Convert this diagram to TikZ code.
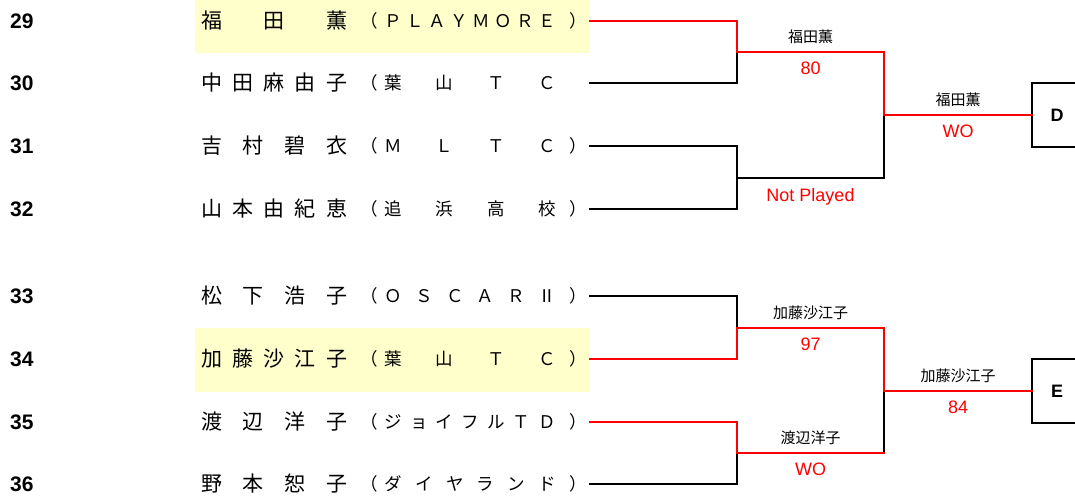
\documentclass[tikz,border=0pt]{standalone}
\usepackage{fontspec}
\setmainfont{Liberation Sans}
\newfontfamily\jpfont{Noto Sans CJK JP}
\newcommand{\clubbox}[1]{（\hspace{7pt}\makebox[171pt][s]{#1}\hspace{14pt}）}
\definecolor{hlyellow}{HTML}{FFFFCC}

\begin{document}
\begin{tikzpicture}[x=1pt,y=-1pt]
  \tikzset {
    num/.style={anchor=west,inner sep=0pt,font=\fontsize{21}{21}\selectfont\bfseries},
    pname/.style={anchor=west,inner sep=0pt,font=\jpfont\fontsize{21}{21}\selectfont},
    pclub/.style={anchor=west,inner sep=0pt,font=\jpfont\fontsize{17.5}{17.5}\selectfont},
    line/.style={line width=2pt,line cap=rect},
    win/.style={line,red},
    winner/.style={above=7pt,inner sep=0pt,text=black,font=\jpfont\fontsize{15}{15}\selectfont},
    score/.style={below=9pt,inner sep=0pt,text=red,font=\fontsize{18}{18}\selectfont},
    slot/.style={anchor=west,minimum width=50pt,minimum height=63pt,inner sep=0pt,font=\fontsize{18}{18}\selectfont\bfseries}
  }
  \useasboundingbox (0,0) rectangle (1075,495);

  % seeded players
  \fill[hlyellow] (195,0) rectangle (590,53);
  \fill[hlyellow] (195,328) rectangle (590,392);

  \foreach \n/\y in {29/21,30/83,31/146,32/209,33/296,34/359,35/422,36/484}{
    \node[num] (n\n) at (10,\y) {\n};
    \coordinate (p\n) at (590,\y);
  }

  \node[pname] (m29) at (201,21) {\makebox[146pt][s]{福\hfil 田\hfil 薫}};
  \node[pclub] (c29) at (360,21) {\clubbox{Ｐ\hfil Ｌ\hfil Ａ\hfil Ｙ\hfil Ｍ\hfil Ｏ\hfil Ｒ\hfil Ｅ}};
  \node[pname] (m30) at (201,83) {\makebox[146pt][s]{中\hfil 田\hfil 麻\hfil 由\hfil 子}};
  \node[pclub] (c30) at (360,83) {（\hspace{7pt}\makebox[171pt][s]{葉\hfil 山\hfil Ｔ\hfil Ｃ}};
  \node[pname] (m31) at (201,146) {\makebox[146pt][s]{吉\hfil 村\hfil 碧\hfil 衣}};
  \node[pclub] (c31) at (360,146) {\clubbox{Ｍ\hfil Ｌ\hfil Ｔ\hfil Ｃ}};
  \node[pname] (m32) at (201,209) {\makebox[146pt][s]{山\hfil 本\hfil 由\hfil 紀\hfil 恵}};
  \node[pclub] (c32) at (360,209) {\clubbox{追\hfil 浜\hfil 高\hfil 校}};
  \node[pname] (m33) at (201,296) {\makebox[146pt][s]{松\hfil 下\hfil 浩\hfil 子}};
  \node[pclub] (c33) at (360,296) {\clubbox{Ｏ\hfil Ｓ\hfil Ｃ\hfil Ａ\hfil Ｒ\hfil Ⅱ}};
  \node[pname] (m34) at (201,359) {\makebox[146pt][s]{加\hfil 藤\hfil 沙\hfil 江\hfil 子}};
  \node[pclub] (c34) at (360,359) {\clubbox{葉\hfil 山\hfil Ｔ\hfil Ｃ}};
  \node[pname] (m35) at (201,422) {\makebox[146pt][s]{渡\hfil 辺\hfil 洋\hfil 子}};
  \node[pclub] (c35) at (360,422) {\clubbox{ジ\hfil ョ\hfil イ\hfil フ\hfil ル\hfil Ｔ\hfil Ｄ}};
  \node[pname] (m36) at (201,484) {\makebox[146pt][s]{野\hfil 本\hfil 恕\hfil 子}};
  \node[pclub] (c36) at (360,484) {\clubbox{ダ\hfil イ\hfil ヤ\hfil ラ\hfil ン\hfil ド}};

  % bracket points
  \coordinate (a1) at (737,52);
  \coordinate (a2) at (737,178);
  \coordinate (a3) at (737,328);
  \coordinate (a4) at (737,453);
  \coordinate (b1) at (884,115);
  \coordinate (b2) at (884,391);
  \coordinate (c4) at (884,453);

  \node[slot] (D) at (1032,115) {D};
  \node[slot] (E) at (1032,391) {E};
  \draw[line] (D.north east) -- (D.north west) -- (D.south west) -- (D.south east);
  \draw[line] (E.north east) -- (E.north west) -- (E.south west) -- (E.south east);

  % block D
  \draw[line] (p30) -| (a1);
  \draw[line] (p31) -| (a2);
  \draw[line] (p32) -| (a2);
  \draw[line] (a2) -| node[pos=0.25,score]{Not Played} (b1);
  \draw[win] (p29) -| (a1);
  \draw[win] (a1) -| node[pos=0.25,winner]{福田薫} node[pos=0.25,score]{80} (b1);
  \draw[win] (b1) -- node[winner]{福田薫} node[score]{WO} (D.west);

  % block E
  \draw[line] (p33) -| (a3);
  \draw[line] (p36) -| (a4);
  \draw[line] (c4) -- (b2);
  \draw[win] (p34) -| (a3);
  \draw[win] (p35) -| (a4);
  \draw[win] (a3) -| node[pos=0.25,winner]{加藤沙江子} node[pos=0.25,score]{97} (b2);
  \draw[win] (a4) -- node[winner]{渡辺洋子} node[score]{WO} (c4);
  \draw[win] (b2) -- node[winner]{加藤沙江子} node[score]{84} (E.west);
\end{tikzpicture}
\end{document}
